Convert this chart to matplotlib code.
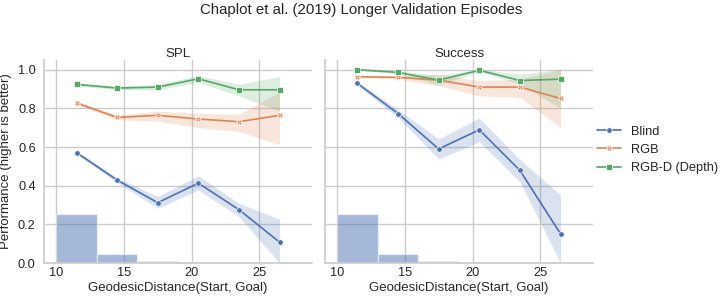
import numpy as np
import matplotlib.pyplot as plt
import seaborn as sns

sns.set_theme(style="whitegrid")
plt.rcParams['font.family'] = ['Liberation Sans', 'DejaVu Sans']

# Centros dos bins de distância geodésica
dist = [11.5, 14.5, 17.5, 20.5, 23.5, 26.5]
bins = [10, 13, 16, 19, 22, 25, 28]
hist_frac = [0.253, 0.049, 0.012, 0.005, 0.006, 0.0]

metodos = ["Blind", "RGB", "RGB-D (Depth)"]
marcadores = ["o", "X", "s"]

# SPL: média, limite inferior, limite superior
spl = {
    "Blind": [0.571, 0.429, 0.312, 0.413, 0.276, 0.108],
    "RGB": [0.828, 0.753, 0.764, 0.745, 0.731, 0.764],
    "RGB-D (Depth)": [0.924, 0.905, 0.910, 0.953, 0.896, 0.896],
}
spl_lo = {
    "Blind": [0.561, 0.417, 0.283, 0.378, 0.240, 0.0],
    "RGB": [0.820, 0.740, 0.734, 0.700, 0.680, 0.613],
    "RGB-D (Depth)": [0.916, 0.897, 0.895, 0.935, 0.865, 0.786],
}
spl_hi = {
    "Blind": [0.581, 0.441, 0.344, 0.451, 0.309, 0.227],
    "RGB": [0.836, 0.765, 0.786, 0.774, 0.770, 0.885],
    "RGB-D (Depth)": [0.932, 0.913, 0.925, 0.970, 0.925, 0.965],
}

# Success
suc = {
    "Blind": [0.929, 0.773, 0.590, 0.689, 0.479, 0.151],
    "RGB": [0.964, 0.960, 0.946, 0.910, 0.910, 0.851],
    "RGB-D (Depth)": [1.0, 0.986, 0.946, 0.997, 0.944, 0.951],
}
suc_lo = {
    "Blind": [0.919, 0.753, 0.538, 0.627, 0.420, 0.0],
    "RGB": [0.959, 0.952, 0.917, 0.865, 0.856, 0.700],
    "RGB-D (Depth)": [0.997, 0.978, 0.920, 0.990, 0.925, 0.800],
}
suc_hi = {
    "Blind": [0.939, 0.793, 0.642, 0.750, 0.535, 0.352],
    "RGB": [0.969, 0.968, 0.977, 0.943, 0.951, 1.0],
    "RGB-D (Depth)": [1.0, 0.994, 0.970, 1.0, 0.977, 1.0],
}

cores = sns.color_palette()[:3]

fig = plt.figure(figsize=(7.23, 3.01), dpi=100)
ax1 = fig.add_axes([0.0609, 0.1262, 0.3707, 0.6744])
ax2 = fig.add_axes([0.4495, 0.1262, 0.3707, 0.6744], sharey=ax1)

for ax, titulo, med, lo, hi in [(ax1, "SPL", spl, spl_lo, spl_hi),
                                 (ax2, "Success", suc, suc_lo, suc_hi)]:
    ax.hist(bins[:-1], bins=bins, weights=hist_frac, color=cores[0], alpha=0.5,
            edgecolor="white", linewidth=1)
    for m, mk, c in zip(metodos, marcadores, cores):
        ax.fill_between(dist, lo[m], hi[m], color=c, alpha=0.2, linewidth=0)
        ax.plot(dist, med[m], marker=mk, color=c, markersize=4,
                markeredgecolor="white", markeredgewidth=0.5, linewidth=1.2, label=m)
    ax.set_title(titulo, fontsize=9.5, pad=2)
    ax.set_xlabel("GeodesicDistance(Start, Goal)", fontsize=9.5, labelpad=2)
    ax.set_xticks([10, 15, 20, 25])
    ax.set_ylim(0, 1.05)
    ax.tick_params(axis="x", labelsize=9.2, pad=3, length=0)
    ax.tick_params(axis="y", labelsize=9.2, pad=6, length=0)
    for s in ["top", "right"]:
        ax.spines[s].set_visible(False)

ax1.set_ylabel("Performance (higher is better)", fontsize=9.5, labelpad=4)
plt.setp(ax2.get_yticklabels(), visible=False)

h, l = ax1.get_legend_handles_labels()
fig.legend(h, l, loc="center left", bbox_to_anchor=(0.818, 0.502), frameon=False,
           fontsize=9.2, borderaxespad=0, handlelength=1.9, labelspacing=0.5)
fig.suptitle("Chaplot et al. (2019) Longer Validation Episodes", fontsize=10.8, y=0.99)

plt.savefig("out.png")
